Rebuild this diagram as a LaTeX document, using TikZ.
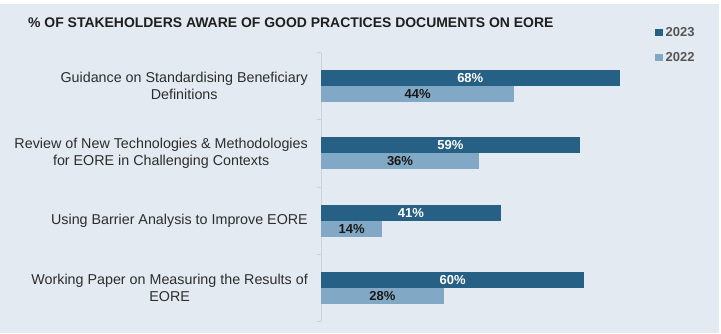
\documentclass[tikz,border=0pt]{standalone}
\usepackage{fontspec}
\setmainfont{Liberation Sans}
\definecolor{bgc}{RGB}{227,234,241}
\definecolor{c23}{RGB}{38,96,133}
\definecolor{c22}{RGB}{129,168,196}
\definecolor{axc}{RGB}{205,210,216}
\definecolor{labc}{RGB}{45,45,45}
\definecolor{legc}{RGB}{85,85,85}
\newcommand{\pxper}{4.39}
\newcommand{\catbars}[4]{%
  \node[bar23, minimum width=#3*\pxper pt, anchor=south west] (#1a) at (321,#2) {#3\%};
  \node[bar22, minimum width=#4*\pxper pt, anchor=north west] (#1b) at (321,#2) {#4\%};
}
\begin{document}
\begin{tikzpicture}[x=1pt,y=-1pt,
  barbase/.style={inner sep=0pt, minimum height=16pt, outer sep=0pt,
    font=\fontsize{13}{15}\selectfont\bfseries},
  bar23/.style={barbase, fill=c23, text=white},
  bar22/.style={barbase, fill=c22, text=black!90},
  catlabel/.style={anchor=east, align=center, inner sep=0pt, text=labc,
    font=\fontsize{14.3}{17}\selectfont},
  axisline/.style={draw=axc, line width=1pt},
  legsq/.style={fill=#1, minimum size=7.5pt, inner sep=0pt},
  legtext/.style={anchor=west, inner sep=0pt, text=legc,
    font=\fontsize{13}{15}\selectfont\bfseries},
  titlestyle/.style={anchor=west, inner sep=0pt, text=black!88,
    font=\fontsize{13.95}{16}\selectfont\bfseries}
]
\useasboundingbox (0,0) rectangle (721,333);
\fill[white] (0,0) rectangle (721,333);
\fill[bgc] (0,4) rectangle (719,333);

% title
\node[titlestyle] (title) at (28,23) {\% OF STAKEHOLDERS AWARE OF GOOD PRACTICES DOCUMENTS ON EORE};

% legend
\node[legsq=c23] (sq23) at (658.8,32.3) {};
\node[legtext] (l23) at (665.5,32.3) {2023};
\node[legsq=c22] (sq22) at (658.8,57.3) {};
\node[legtext] (l22) at (665.5,57.3) {2022};

% axis
\coordinate (t0) at (321,52.7);
\coordinate (t1) at (321,119.85);
\coordinate (t2) at (321,187.0);
\coordinate (t3) at (321,254.15);
\coordinate (t4) at (321,321.3);
\coordinate (k0) at (316.5,52.7);
\coordinate (k1) at (316.5,119.85);
\coordinate (k2) at (316.5,187.0);
\coordinate (k3) at (316.5,254.15);
\coordinate (k4) at (316.5,321.3);
\draw[axisline] (t0) -- (t4);
\foreach \i in {0,...,4} { \draw[axisline] (k\i) -- (t\i); }

% bars
\catbars{g1}{86.3}{68}{44}
\catbars{g2}{153.4}{59}{36}
\catbars{g3}{220.6}{41}{14}
\catbars{g4}{287.7}{60}{28}

% category labels
\node[catlabel] (c1) at (308,86.3) {Guidance on Standardising Beneficiary\\Definitions};
\node[catlabel] (c2) at (308,153.4) {Review of New Technologies \& Methodologies\\for EORE in Challenging Contexts};
\node[catlabel] (c3) at (308,220.6) {Using Barrier Analysis to Improve EORE};
\node[catlabel] (c4) at (308,287.7) {Working Paper on Measuring the Results of\\EORE};
\end{tikzpicture}
\end{document}
